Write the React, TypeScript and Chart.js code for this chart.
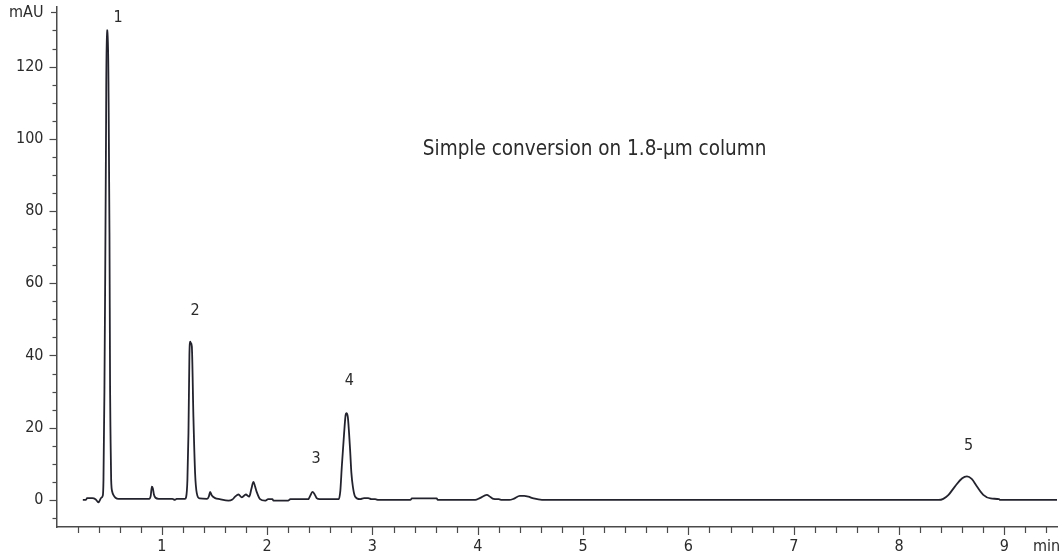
import React, { useEffect, useRef } from 'react';
import { Chart, registerables } from 'chart.js';

Chart.register(...registerables);

// Retention time (min) and absorbance (mAU) of the chromatogram trace
const retentionTimes = [
  0.25, 0.28, 0.29, 0.34, 0.37, 0.385, 0.398, 0.41, 0.425, 0.44,
  0.446, 0.455, 0.462, 0.47, 0.476, 0.488, 0.495, 0.503, 0.509, 0.513,
  0.519, 0.53, 0.54, 0.56, 0.59, 0.7, 0.88, 0.895, 0.905, 0.915,
  0.925, 0.94, 0.97, 1.1, 1.125, 1.14, 1.22, 1.231, 1.243, 1.253,
  1.262, 1.269, 1.275, 1.285, 1.3, 1.316, 1.332, 1.36, 1.43, 1.447,
  1.459, 1.475, 1.506, 1.55, 1.633, 1.67, 1.696, 1.728, 1.76, 1.798,
  1.83, 1.85, 1.87, 1.885, 1.9, 1.933, 1.98, 2.01, 2.05, 2.06,
  2.2, 2.22, 2.39, 2.41, 2.43, 2.45, 2.47, 2.5, 2.68, 2.695,
  2.709, 2.731, 2.745, 2.752, 2.766, 2.778, 2.788, 2.8, 2.814, 2.836,
  2.883, 2.92, 2.96, 2.99, 3.026, 3.057, 3.36, 3.374, 3.61, 3.62,
  3.975, 4.02, 4.086, 4.12, 4.15, 4.2, 4.23, 4.3, 4.34, 4.4,
  4.44, 4.48, 4.53, 4.61, 8.375, 8.42, 8.47, 8.53, 8.6, 8.645,
  8.69, 8.74, 8.8, 8.87, 8.95, 8.96, 9.5,
];
const absorbance = [
  0, 0, 0.5, 0.5, 0.2, -0.3, -0.7, -0.2, 0.6, 1.2,
  5.5, 30, 60, 100, 130, 130, 110, 74, 30, 18,
  5.5, 2.2, 1.4, 0.6, 0.3, 0.3, 0.3, 1.2, 3.7, 3.2,
  1.5, 0.6, 0.3, 0.3, 0, 0.3, 0.3, 0.8, 5.5, 18.5,
  40, 43.8, 43.5, 42.5, 23, 7.4, 1.9, 0.4, 0.3, 1.0,
  2.2, 1.2, 0.5, 0.2, -0.2, 0.1, 0.9, 1.5, 0.7, 1.5,
  0.9, 3, 5.0, 3.8, 2.3, 0.2, -0.2, 0.2, 0.2, -0.2,
  -0.2, 0.2, 0.2, 1.2, 2.2, 1.6, 0.5, 0.2, 0.2, 2.5,
  9.2, 18.5, 23.5, 24, 23, 18.5, 13.8, 7.5, 3.7, 0.9,
  0.2, 0.5, 0.5, 0.2, 0.2, 0, 0, 0.4, 0.4, 0,
  0, 0.5, 1.4, 0.8, 0.3, 0.2, 0, 0, 0.3, 1.1,
  1.1, 0.9, 0.4, 0, 0, 0.3, 1.4, 3.7, 6.0, 6.5,
  5.8, 3.7, 1.4, 0.4, 0.2, 0, 0,
];

// Axis ticks and labels
const xMajorTicks = [1, 2, 3, 4, 5, 6, 7, 8, 9];
const xTickLabels = ['1', '2', '3', '4', '5', '6', '7', '8', '9'];
const xUnitTick = 9.4;
const xUnitLabel = 'min';
const yMajorTicks = [0, 20, 40, 60, 80, 100, 120];
const yTickLabels = ['0', '20', '40', '60', '80', '100', '120'];
const yUnitTick = 135;
const yUnitLabel = 'mAU';

// Peak numbers and where they sit (min, mAU)
const peakLabels = ['1', '2', '3', '4', '5'];
const peakLabelTimes = [0.585, 1.316, 2.465, 2.78, 8.66];
const peakLabelHeights = [133.5, 52.3, 11.4, 33, 15];

const annotationText = 'Simple conversion on 1.8-µm column';
const annotationTime = 5.11;
const annotationHeight = 96.9;

const FONT = "'Liberation Sans Narrow', 'DejaVu Sans Condensed', 'Liberation Sans', sans-serif";
const TEXT_COLOR = '#2b2b2b';
const AXIS_COLOR = '#4a4a4a';
const TRACE_COLOR = '#23232e';

const decorPlugin = {
  id: 'decor',
  afterDraw(chart: any) {
    const { ctx, scales } = chart;
    const x = scales.x;
    const y = scales.y;
    const area = chart.chartArea;
    ctx.save();
    ctx.strokeStyle = AXIS_COLOR;
    ctx.lineWidth = 1.2;
    // x ticks every 0.2 min
    for (let i = 1; i <= 47; i++) {
      const v = i / 5;
      const major = i % 5 === 0;
      const px = Math.round(x.getPixelForValue(v)) + 0.5;
      ctx.beginPath();
      ctx.moveTo(px, area.bottom);
      ctx.lineTo(px, area.bottom + (major ? 8 : 6));
      ctx.stroke();
    }
    // y ticks every 5 mAU
    for (let i = -1; i <= 27; i++) {
      const v = i * 5;
      const major = v % 20 === 0 || v === yUnitTick;
      const len = v === yUnitTick ? 5.5 : major ? 7 : 4;
      const py = Math.round(y.getPixelForValue(v)) + 0.5;
      ctx.beginPath();
      ctx.moveTo(area.left, py);
      ctx.lineTo(area.left - len, py);
      ctx.stroke();
    }
    // peak numbers
    ctx.fillStyle = TEXT_COLOR;
    ctx.textAlign = 'center';
    ctx.textBaseline = 'middle';
    ctx.font = `16px ${FONT}`;
    peakLabels.forEach((t, i) => {
      ctx.fillText(t, x.getPixelForValue(peakLabelTimes[i]), y.getPixelForValue(peakLabelHeights[i]));
    });
    ctx.font = `20.5px ${FONT}`;
    ctx.fillText(annotationText, x.getPixelForValue(annotationTime), y.getPixelForValue(annotationHeight));
    ctx.restore();
  },
};

const zeroPadding = (scale: any) => {
  scale.paddingTop = 0;
  scale.paddingBottom = 0;
  scale.paddingLeft = 0;
  scale.paddingRight = 0;
};

export default function App() {
  const canvasRef = useRef<HTMLCanvasElement | null>(null);

  useEffect(() => {
    const canvas = canvasRef.current;
    if (!canvas) return;
    const points = retentionTimes.map((t, i) => ({ x: t, y: absorbance[i] }));
    const chart = new Chart(canvas, {
      type: 'line',
      data: {
        datasets: [
          {
            data: points,
            borderColor: TRACE_COLOR,
            borderWidth: 1.8,
            pointRadius: 0,
            fill: false,
            cubicInterpolationMode: 'monotone',
          },
        ],
      },
      options: {
        animation: false,
        responsive: false,
        events: [],
        layout: { padding: { top: 7, right: 5, left: 0, bottom: 0 } },
        plugins: { legend: { display: false }, tooltip: { enabled: false } },
        scales: {
          x: {
            type: 'linear',
            min: 0,
            max: 9.5,
            grid: { display: false, drawTicks: false },
            border: { display: true, color: AXIS_COLOR, width: 1.5 },
            afterBuildTicks: (scale: any) => {
              scale.ticks = [...xMajorTicks, xUnitTick].map((v) => ({ value: v }));
            },
            afterFit: (scale: any) => {
              scale.height = 31;
              zeroPadding(scale);
            },
            ticks: {
              autoSkip: false,
              maxRotation: 0,
              padding: 10,
              color: TEXT_COLOR,
              font: { family: FONT, size: 16 },
              callback: (value: any) => {
                if (value === xUnitTick) return xUnitLabel;
                const idx = xMajorTicks.indexOf(value);
                return idx >= 0 ? xTickLabels[idx] : '';
              },
            },
          },
          y: {
            type: 'linear',
            min: -7.5,
            max: 136.5,
            grid: { display: false, drawTicks: false },
            border: { display: true, color: AXIS_COLOR, width: 1.5 },
            afterBuildTicks: (scale: any) => {
              scale.ticks = [...yMajorTicks, yUnitTick].map((v) => ({ value: v }));
            },
            afterFit: (scale: any) => {
              scale.width = 56.5;
              zeroPadding(scale);
            },
            ticks: {
              autoSkip: false,
              padding: 13,
              color: TEXT_COLOR,
              font: { family: FONT, size: 16 },
              callback: (value: any) => {
                if (value === yUnitTick) return yUnitLabel;
                const idx = yMajorTicks.indexOf(value);
                return idx >= 0 ? yTickLabels[idx] : '';
              },
            },
          },
        },
      },
      plugins: [decorPlugin],
    });
    return () => chart.destroy();
  }, []);

  return (
    <div style={{ position: 'fixed', left: 0, top: 0, width: 1062, height: 558, background: '#fff' }}>
      <canvas ref={canvasRef} width={1062} height={558} style={{ display: 'block' }} />
    </div>
  );
}
